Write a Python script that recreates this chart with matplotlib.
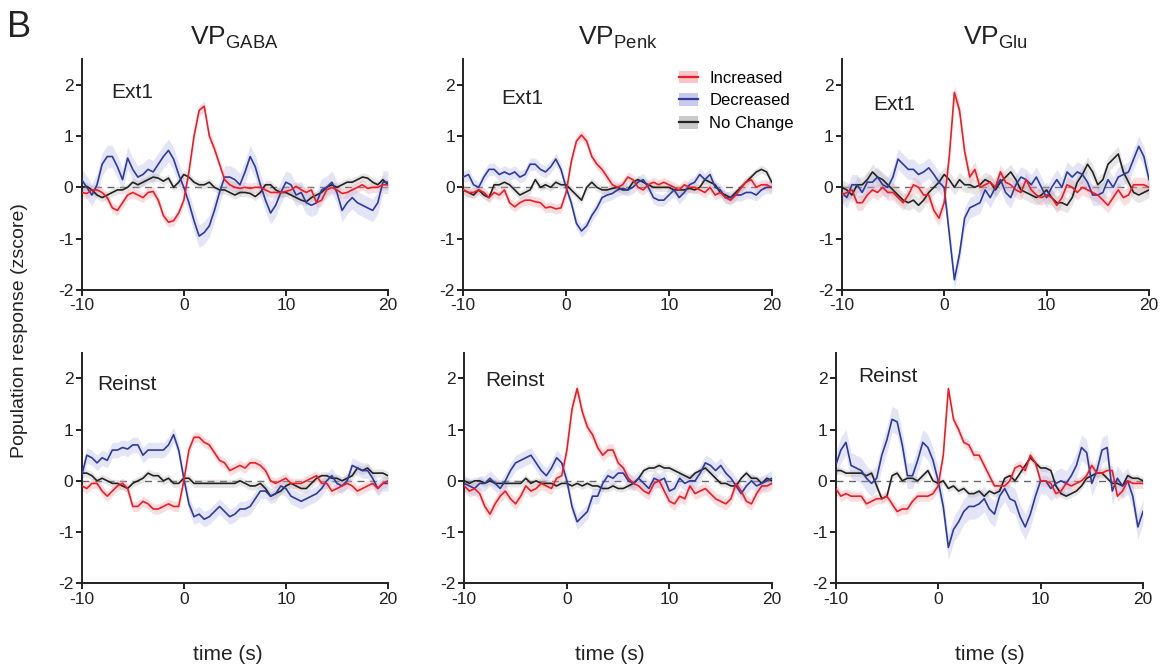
import numpy as np
import matplotlib
matplotlib.use('Agg')
import matplotlib.pyplot as plt
from matplotlib.lines import Line2D
from matplotlib.patches import Patch

plt.rcParams['font.family'] = ['Liberation Sans', 'DejaVu Sans']
plt.rcParams['mathtext.fontset'] = 'custom'
plt.rcParams['mathtext.rm'] = 'Liberation Sans'
plt.rcParams['axes.unicode_minus'] = False

# time axis, 0.5 s steps from -10 to 20
t = np.arange(-10, 20.01, 0.5)

# ---- VP GABA, Ext1 ----
gaba_ext_inc = [-0.1, -0.12, -0.05, -0.05, -0.1, -0.2, -0.4, -0.45, -0.3, -0.15, -0.1,
                -0.15, -0.2, -0.1, -0.08, -0.25, -0.55, -0.68, -0.65, -0.5, -0.25,
                0.3, 1.0, 1.5, 1.58, 1.0, 0.75, 0.45, 0.15, 0.05, 0.0,
                -0.02, 0.0, -0.02, 0.0, 0.0, -0.05, -0.1, -0.1, -0.1, -0.08,
                -0.05, 0.02, -0.05, -0.1, -0.05, -0.3, -0.25, -0.05, 0.0, -0.05,
                -0.12, -0.1, -0.05, 0.0, 0.05, -0.02, 0.0, 0.0, 0.05, 0.05]
gaba_ext_dec = [0.15, 0.0, -0.15, 0.05, 0.45, 0.6, 0.6, 0.4, 0.15, 0.57, 0.35,
                0.2, 0.25, 0.35, 0.3, 0.45, 0.6, 0.72, 0.55, 0.25, 0.0,
                -0.3, -0.65, -0.95, -0.88, -0.75, -0.45, -0.1, 0.2, 0.2, 0.15,
                0.05, 0.3, 0.6, 0.4, 0.05, -0.25, -0.5, -0.35, -0.1, 0.1,
                0.05, -0.15, -0.1, -0.3, -0.35, -0.3, -0.05, 0.0, 0.1, -0.1,
                -0.45, -0.3, -0.2, -0.3, -0.35, -0.4, -0.45, -0.3, 0.1, 0.1]
gaba_ext_none = [0.0, 0.02, -0.05, -0.15, -0.2, -0.15, -0.1, -0.05, -0.05, 0.0, 0.1,
                 0.05, 0.1, 0.15, 0.2, 0.18, 0.12, 0.18, 0.0, 0.1, 0.25,
                 0.2, 0.1, 0.05, 0.05, 0.1, 0.0, -0.05, -0.05, -0.1, -0.15,
                 -0.1, -0.1, -0.12, -0.18, -0.1, 0.05, 0.05, -0.05, -0.1, -0.1,
                 -0.15, -0.2, -0.25, -0.28, -0.2, -0.15, -0.1, 0.0, 0.05, 0.0,
                 0.05, 0.1, 0.1, 0.15, 0.2, 0.18, 0.1, 0.05, 0.15, 0.05]

# ---- VP Penk, Ext1 ----
penk_ext_inc = [-0.05, -0.1, -0.1, -0.05, -0.1, -0.2, -0.1, -0.15, -0.05, -0.3, -0.38,
                -0.3, -0.25, -0.25, -0.28, -0.3, -0.4, -0.38, -0.42, -0.4, -0.1,
                0.5, 0.9, 1.02, 0.9, 0.6, 0.45, 0.35, 0.2, 0.05, 0.0,
                0.05, 0.2, 0.15, 0.0, -0.05, 0.05, 0.1, 0.05, 0.1, 0.05,
                0.0, -0.05, 0.05, 0.0, 0.0, -0.05, -0.1, 0.0, -0.15, -0.1,
                -0.2, -0.25, -0.15, -0.02, 0.1, 0.15, 0.0, 0.05, 0.05, 0.0]
penk_ext_dec = [0.2, 0.25, 0.05, 0.0, 0.2, 0.35, 0.35, 0.25, 0.3, 0.25, 0.3,
                0.2, 0.25, 0.45, 0.45, 0.35, 0.3, 0.4, 0.55, 0.35, 0.0,
                -0.3, -0.7, -0.85, -0.75, -0.55, -0.4, -0.2, -0.15, -0.12, -0.05,
                -0.02, -0.05, 0.0, 0.1, 0.15, 0.0, -0.2, -0.25, -0.25, -0.15,
                -0.05, -0.2, -0.1, 0.05, 0.1, 0.25, 0.15, 0.25, 0.0, -0.05,
                -0.2, -0.2, -0.15, -0.15, -0.1, -0.1, -0.15, -0.05, 0.0, 0.0]
penk_ext_none = [-0.05, -0.1, -0.15, -0.05, -0.15, -0.2, 0.05, 0.05, 0.1, 0.05, -0.05,
                 -0.15, -0.1, -0.05, 0.15, 0.0, 0.05, 0.0, 0.1, 0.05, 0.05,
                 -0.05, -0.15, -0.25, 0.0, 0.1, 0.0, -0.05, -0.05, -0.02, 0.0,
                 -0.05, -0.05, 0.1, 0.15, 0.1, 0.05, 0.0, 0.0, 0.0, 0.0,
                 -0.05, -0.05, -0.05, -0.02, -0.05, 0.0, 0.15, 0.1, 0.05, -0.1,
                 -0.15, -0.2, -0.1, 0.0, 0.1, 0.2, 0.3, 0.35, 0.3, 0.1]

# ---- VP Glu, Ext1 ----
glu_ext_inc = [-0.15, -0.1, -0.05, -0.3, -0.3, -0.15, -0.05, -0.1, 0.0, -0.1, -0.1,
               -0.2, -0.3, -0.15, 0.05, 0.0, -0.15, -0.15, -0.45, -0.6, -0.3,
               0.6, 1.85, 1.5, 0.7, 0.2, 0.35, 0.0, 0.05, 0.1, 0.0,
               0.3, 0.1, 0.05, -0.05, -0.1, 0.15, -0.05, -0.15, -0.2, -0.15,
               -0.2, -0.35, -0.2, 0.05, 0.0, -0.1, 0.0, -0.05, -0.1, -0.15,
               -0.25, -0.35, -0.2, -0.05, -0.2, -0.15, 0.05, 0.05, 0.05, 0.0]
glu_ext_dec = [-0.1, -0.2, 0.05, 0.05, -0.1, 0.1, 0.1, 0.2, 0.05, 0.0, 0.2,
               0.55, 0.45, 0.35, 0.35, 0.25, 0.3, 0.38, 0.25, 0.1, 0.0,
               -0.9, -1.8, -1.3, -0.6, -0.4, -0.35, -0.3, -0.05, -0.2, 0.0,
               0.15, -0.1, -0.2, 0.05, 0.2, 0.15, 0.05, 0.2, 0.0, -0.2,
               0.0, 0.15, 0.0, 0.3, 0.2, 0.3, 0.25, 0.1, -0.15, -0.15,
               -0.1, 0.15, 0.0, 0.2, 0.25, 0.3, 0.55, 0.8, 0.6, 0.15]
glu_ext_none = [0.0, -0.05, -0.15, 0.05, 0.05, 0.15, 0.3, 0.2, 0.15, 0.05, -0.05,
                -0.15, -0.25, -0.3, -0.25, -0.35, -0.25, -0.1, 0.0, 0.1, 0.25,
                0.15, 0.0, 0.15, 0.05, 0.05, 0.0, 0.05, 0.15, 0.1, -0.05,
                0.1, 0.2, 0.3, 0.15, -0.05, -0.1, -0.15, -0.2, -0.15, -0.05,
                -0.2, -0.3, -0.3, -0.35, -0.2, 0.1, 0.25, 0.45, 0.3, 0.05,
                0.15, 0.45, 0.55, 0.65, 0.3, 0.1, -0.1, -0.15, -0.1, -0.05]

# ---- VP GABA, Reinst ----
gaba_rei_inc = [-0.1, -0.15, -0.05, -0.05, -0.2, -0.3, -0.2, -0.1, -0.05, -0.15, -0.5,
                -0.5, -0.4, -0.45, -0.55, -0.55, -0.5, -0.45, -0.5, -0.5, 0.0,
                0.6, 0.85, 0.85, 0.75, 0.7, 0.55, 0.4, 0.35, 0.2, 0.25,
                0.3, 0.25, 0.35, 0.35, 0.3, 0.2, 0.0, -0.05, 0.0, 0.05,
                -0.05, -0.05, -0.05, 0.0, 0.05, 0.1, -0.05, -0.05, -0.2, -0.15,
                -0.1, -0.05, -0.1, -0.2, -0.15, -0.1, -0.05, -0.15, -0.05, 0.0]
gaba_rei_dec = [0.1, 0.5, 0.45, 0.35, 0.45, 0.4, 0.6, 0.6, 0.65, 0.62, 0.7,
                0.7, 0.5, 0.6, 0.6, 0.6, 0.6, 0.7, 0.9, 0.6, 0.05,
                -0.45, -0.7, -0.65, -0.75, -0.7, -0.6, -0.5, -0.6, -0.7, -0.65,
                -0.55, -0.55, -0.5, -0.35, -0.2, -0.2, -0.3, -0.25, -0.1, -0.15,
                -0.3, -0.35, -0.4, -0.35, -0.3, -0.25, -0.15, 0.0, 0.1, -0.05,
                -0.1, 0.0, 0.3, 0.25, 0.2, 0.2, 0.05, -0.15, -0.05, -0.05]
gaba_rei_none = [0.15, 0.15, 0.1, 0.0, 0.05, 0.0, -0.05, -0.05, -0.1, -0.15, -0.05,
                 0.0, 0.05, 0.15, 0.1, 0.1, 0.0, 0.05, -0.05, -0.05, 0.05,
                 0.05, -0.05, -0.05, -0.05, -0.05, -0.05, -0.05, -0.05, -0.05, -0.05,
                 0.0, -0.05, -0.1, -0.1, -0.05, -0.15, -0.3, -0.25, -0.2, -0.1,
                 -0.05, -0.1, -0.15, -0.15, -0.05, 0.05, 0.1, 0.1, 0.05, 0.05,
                 0.0, 0.05, 0.1, 0.25, 0.2, 0.25, 0.15, 0.15, 0.15, 0.1]

# ---- VP Penk, Reinst ----
penk_rei_inc = [-0.1, -0.2, -0.15, -0.25, -0.5, -0.65, -0.45, -0.3, -0.2, -0.35, -0.45,
                -0.3, -0.1, -0.2, -0.15, -0.05, -0.1, -0.15, 0.05, 0.1, 0.6,
                1.4, 1.8, 1.35, 1.05, 0.9, 0.65, 0.5, 0.6, 0.6, 0.35,
                0.25, 0.05, -0.05, -0.1, -0.2, -0.25, -0.05, 0.0, -0.2, -0.4,
                -0.45, -0.3, -0.35, -0.1, -0.25, -0.2, -0.15, -0.25, -0.35, -0.4,
                -0.45, -0.35, -0.05, -0.2, -0.4, -0.45, -0.25, -0.1, -0.1, -0.05]
penk_rei_dec = [-0.05, -0.1, -0.15, -0.05, -0.05, 0.05, -0.05, -0.15, 0.0, 0.2, 0.35,
                0.4, 0.45, 0.5, 0.35, 0.2, 0.1, 0.25, 0.45, 0.35, 0.0,
                -0.5, -0.8, -0.7, -0.6, -0.3, -0.3, -0.05, 0.1, 0.05, 0.15,
                0.15, 0.0, -0.05, 0.05, -0.05, -0.15, 0.05, 0.0, 0.05, -0.2,
                -0.15, 0.05, -0.05, 0.0, 0.0, 0.15, 0.35, 0.3, 0.2, 0.3,
                0.15, 0.05, -0.1, -0.25, -0.1, 0.0, -0.1, -0.05, 0.0, 0.05]
penk_rei_none = [0.0, -0.05, 0.0, 0.0, -0.05, 0.0, -0.05, -0.05, -0.05, -0.05, -0.05,
                 -0.05, 0.05, -0.05, 0.0, -0.05, -0.05, -0.05, -0.1, -0.05, -0.05,
                 -0.1, -0.05, -0.1, -0.05, -0.1, -0.1, -0.15, -0.15, -0.1, -0.15,
                 -0.15, -0.1, -0.05, 0.05, 0.2, 0.25, 0.25, 0.3, 0.25, 0.25,
                 0.2, 0.15, 0.1, 0.05, 0.15, 0.2, 0.25, 0.15, 0.05, -0.05,
                 -0.05, -0.1, -0.1, 0.05, 0.15, 0.05, 0.05, -0.05, 0.05, 0.0]

# ---- VP Glu, Reinst ----
glu_rei_inc = [-0.15, -0.3, -0.25, -0.3, -0.3, -0.3, -0.45, -0.4, -0.35, -0.35, -0.3,
               -0.45, -0.6, -0.55, -0.55, -0.4, -0.3, -0.3, -0.3, -0.25, -0.1,
               0.5, 1.8, 1.2, 1.0, 0.75, 0.7, 0.5, 0.5, 0.3, 0.1,
               -0.1, -0.1, -0.1, 0.0, 0.25, 0.3, 0.2, 0.5, 0.35, 0.0,
               0.0, -0.05, -0.25, -0.2, -0.05, -0.1, -0.05, 0.0, 0.1, 0.3,
               0.15, 0.15, 0.2, 0.2, -0.3, -0.2, 0.0, -0.05, -0.05, -0.05]
glu_rei_dec = [0.3, 0.6, 0.75, 0.3, 0.25, 0.2, 0.05, -0.05, 0.05, 0.5, 0.8,
               1.2, 1.15, 0.7, 0.1, 0.1, 0.4, 0.75, 0.65, 0.4, 0.0,
               -0.5, -1.3, -0.95, -0.8, -0.6, -0.5, -0.5, -0.45, -0.35, -0.55,
               -0.65, -0.3, -0.15, -0.35, -0.4, -0.7, -0.9, -0.65, -0.3, 0.0,
               0.0, -0.15, -0.05, 0.0, -0.05, 0.1, 0.3, 0.65, 0.55, -0.05,
               0.2, 0.6, 0.65, -0.2, 0.05, -0.1, 0.0, -0.3, -0.9, -0.6]
glu_rei_none = [0.2, 0.2, 0.15, 0.15, 0.15, 0.15, 0.1, 0.15, -0.1, -0.35, -0.3,
                0.1, 0.15, 0.0, 0.05, 0.05, 0.0, 0.1, 0.2, 0.0, -0.05,
                0.0, -0.15, -0.1, -0.2, -0.15, -0.25, -0.25, -0.2, -0.3, -0.2,
                -0.25, -0.2, 0.05, 0.1, 0.0, 0.15, 0.3, 0.45, 0.35, 0.25,
                0.25, 0.2, -0.1, -0.25, -0.3, -0.25, -0.2, -0.1, 0.05, 0.1,
                0.15, 0.15, 0.05, -0.05, -0.05, -0.1, 0.1, 0.05, 0.05, 0.0]

# approximate SEM half-widths of the shaded bands (inc, dec, none) per panel
sem_top = [(0.1, 0.22, 0.08), (0.1, 0.12, 0.08), (0.15, 0.2, 0.15)]
sem_bot = [(0.1, 0.15, 0.08), (0.12, 0.15, 0.07), (0.1, 0.25, 0.07)]

top_data = [(gaba_ext_inc, gaba_ext_dec, gaba_ext_none),
            (penk_ext_inc, penk_ext_dec, penk_ext_none),
            (glu_ext_inc, glu_ext_dec, glu_ext_none)]
bot_data = [(gaba_rei_inc, gaba_rei_dec, gaba_rei_none),
            (penk_rei_inc, penk_rei_dec, penk_rei_none),
            (glu_rei_inc, glu_rei_dec, glu_rei_none)]

titles = [r'VP$_{\mathrm{GABA}}$', r'VP$_{\mathrm{Penk}}$', r'VP$_{\mathrm{Glu}}$']
labels = ['Increased', 'Decreased', 'No Change']

line_cols = ['#f01c24', '#2e3a9c', '#222222']
band_cols = ['#f4a0a8', '#a4a8de', '#a8a8a8']
band_alpha = [0.35, 0.3, 0.28]

W, H = 1169, 671
fig = plt.figure(figsize=(W / 100, H / 100), dpi=100)

# axes rectangles in pixels: left, right, top (y=2.5), bottom (y=-2)
top_px = [(81.7, 388.0), (463.3, 771.7), (841.7, 1149.0)]
bot_px = [(81.7, 388.0), (464.3, 772.0), (835.7, 1143.0)]
rows = [(59.0, 290.0, top_px, top_data, sem_top, 'Ext1',
         [(-7.06, 1.84), (-6.27, 1.74), (-6.9, 1.61)]),
        (352.7, 583.3, bot_px, bot_data, sem_bot, 'Reinst',
         [(-8.47, 1.87), (-7.98, 1.95), (-7.8, 2.04)])]

axes = []
for r, (ytop, ybot, pxs, data, sems, tag, tagpos) in enumerate(rows):
    for c in range(3):
        x0, x1 = pxs[c]
        ax = fig.add_axes([x0 / W, 1 - ybot / H, (x1 - x0) / W, (ybot - ytop) / H])
        axes.append(ax)
        ax.axhline(0, color='#666666', lw=1, dashes=(5, 4), zorder=1)
        for k in range(3):
            y = np.array(data[c][k])
            s = sems[c][k]
            ax.fill_between(t, y - s, y + s, color=band_cols[k], alpha=band_alpha[k],
                            lw=0, zorder=2)
        for k in [2, 1, 0]:
            ax.plot(t, data[c][k], color=line_cols[k], lw=1.2, zorder=3 + (2 - k))
        ax.set_xlim(-10, 20)
        ax.set_ylim(-2, 2.5)
        ax.set_xticks([-10, 0, 10, 20])
        ax.set_yticks([-2, -1, 0, 1, 2])
        ax.spines['top'].set_visible(False)
        ax.spines['right'].set_visible(False)
        for sp in ['left', 'bottom']:
            ax.spines[sp].set_linewidth(1.4)
            ax.spines[sp].set_color('#222222')
        ax.tick_params(labelsize=12.5, width=1.4, length=4, colors='#222222', pad=2)
        ax.text(tagpos[c][0], tagpos[c][1], tag, fontsize=15, va='center', ha='left',
                color='#222222')
        ax.margins(0)

# legend in the middle top panel
handles = []
for k in range(3):
    handles.append((Patch(facecolor=band_cols[k], alpha=0.6, lw=0),
                    Line2D([], [], color=line_cols[k], lw=1.6)))
axes[1].legend(handles, labels, loc='upper left', bbox_to_anchor=(0.7, 0.95),
               frameon=False, fontsize=12, handlelength=1.1, handleheight=0.8,
               handletextpad=0.7, labelspacing=0.45, borderpad=0, borderaxespad=0)

# column titles
for c in range(3):
    x0, x1 = top_px[c]
    fig.text((x0 + x1) / 2 / W, 1 - 38 / H, titles[c], fontsize=19, ha='center',
             va='center', color='#222222')

fig.text(0.006, 0.985, 'B', fontsize=26, ha='left', va='top', color='#222222')
fig.text(0.017, 0.508, 'Population response (zscore)', fontsize=14, rotation=90,
         ha='center', va='center', color='#222222')
for cx in [228, 610, 990]:
    fig.text(cx / W, 1 - 655 / H, 'time (s)', fontsize=15, ha='center',
             va='center', color='#222222')

fig.savefig('out.png', dpi=100)
